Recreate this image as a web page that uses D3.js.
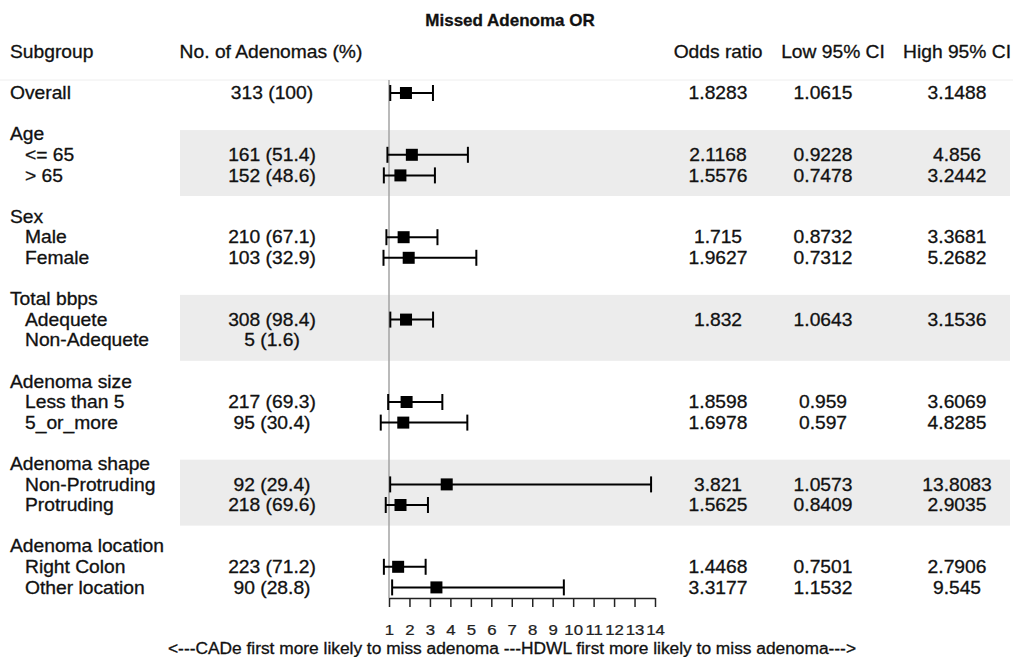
<!DOCTYPE html>
<html lang="en">
<head>
    <meta charset="UTF-8">
    <title>Missed Adenoma OR</title>
    <script src="https://d3js.org/d3.v7.min.js"></script>
    <style>
        body { margin: 0; background: #fff; }
        text { font-family: "Liberation Sans", Arial, sans-serif; fill: #111; stroke: #111; stroke-width: 0.3; }
        .band { fill: #ececec; }
        .ci { stroke: #000; stroke-width: 2; }
    </style>
</head>
<body>
<script>
    const width = 1013;
    const height = 657;

    // chart data
    const overallLabel = "Overall";
    const groups = ["Age", "Sex", "Total bbps", "Adenoma size", "Adenoma shape", "Adenoma location"];
    const subgroups = [
        ["<= 65", "> 65"],
        ["Male", "Female"],
        ["Adequete", "Non-Adequete"],
        ["Less than 5", "5_or_more"],
        ["Non-Protruding", "Protruding"],
        ["Right Colon", "Other location"]
    ];
    // overall first, then subgroups in order
    const counts  = [313, 161, 152, 210, 103, 308, 5, 217, 95, 92, 218, 223, 90];
    const percent = [100, 51.4, 48.6, 67.1, 32.9, 98.4, 1.6, 69.3, 30.4, 29.4, 69.6, 71.2, 28.8];
    const oddsRatio = [1.8283, 2.1168, 1.5576, 1.715, 1.9627, 1.832, null, 1.8598, 1.6978, 3.821, 1.5625, 1.4468, 3.3177];
    const lowCI     = [1.0615, 0.9228, 0.7478, 0.8732, 0.7312, 1.0643, null, 0.959, 0.597, 1.0573, 0.8409, 0.7501, 1.1532];
    const highCI    = [3.1488, 4.856, 3.2442, 3.3681, 5.2682, 3.1536, null, 3.6069, 4.8285, 13.8083, 2.9035, 2.7906, 9.545];
    const xTicks = d3.range(1, 15);

    const title = "Missed Adenoma OR";
    const axisLabel = "<---CADe first more likely to miss adenoma ---HDWL first more likely to miss adenoma--->";

    // build the row layout: overall, blank, then header + 2 rows + blank per group
    const rows = [];
    rows.push({row: 0, label: overallLabel, indent: false, k: 0});
    let k = 1;
    groups.forEach((g, gi) => {
        const base = 2 + gi * 4;
        rows.push({row: base, label: g, indent: false, k: null});
        subgroups[gi].forEach((s, si) => {
            rows.push({row: base + 1 + si, label: s, indent: true, k: k});
            k++;
        });
    });

    const svg = d3.select("body").append("svg")
            .attr("width", width).attr("height", height);

    const y = d3.scaleLinear().domain([0, 24]).range([93, 587.4]);
    const x = d3.scaleLinear().domain([1, 14]).range([389, 655]);
    const step = y(1) - y(0);
    const sx = 1.1; // text in the picture runs a bit wide

    // shaded bands on every other group
    svg.selectAll("rect.band")
            .data(groups.filter((g, i) => i % 2 == 0))
            .enter().append("rect")
            .attr("class", "band")
            .attr("x", 180)
            .attr("width", 830)
            .attr("y", (d, i) => y(2 + i * 8) - 0.2 * step)
            .attr("height", 3.2 * step);

    // faint rule under header
    svg.append("line")
            .attr("x1", 0).attr("x2", width)
            .attr("y1", 80).attr("y2", 80)
            .style("stroke", "#eeeeee");

    function txt(g, xx, yy, s, anchor, size, weight) {
        return g.append("text")
                .attr("transform", `translate(${xx},${yy}) scale(${sx},1)`)
                .attr("text-anchor", anchor)
                .attr("dominant-baseline", "central")
                .style("font-size", size + "px")
                .style("font-weight", weight || "normal")
                .text(s);
    }

    // title and column headers
    svg.append("text")
            .attr("x", 510).attr("y", 20)
            .attr("text-anchor", "middle")
            .attr("dominant-baseline", "central")
            .style("font-size", "17px")
            .style("font-weight", "bold")
            .text(title);

    const head = svg.append("g");
    txt(head, 10, 52, "Subgroup", "start", 17.5);
    txt(head, 271, 52, "No. of Adenomas (%)", "middle", 17.5);
    txt(head, 718, 52, "Odds ratio", "middle", 17.5);
    txt(head, 833, 52, "Low 95% CI", "middle", 17.5);
    txt(head, 957, 52, "High 95% CI", "middle", 17.5);

    // reference line at OR = 1
    svg.append("line")
            .attr("x1", x(1)).attr("x2", x(1))
            .attr("y1", 80).attr("y2", 598)
            .style("stroke", "#a3a3a3")
            .style("stroke-width", 1.5);

    const body = svg.append("g");
    rows.forEach(r => {
        const yy = y(r.row);
        txt(body, r.indent ? 25 : 10, yy, r.label, "start", 17.5);
        if (r.k === null) return;
        txt(body, 272, yy, `${counts[r.k]} (${percent[r.k]})`, "middle", 17.5);
        if (oddsRatio[r.k] === null) return;
        txt(body, 718, yy, oddsRatio[r.k], "middle", 17.5);
        txt(body, 823, yy, lowCI[r.k], "middle", 17.5);
        txt(body, 957, yy, highCI[r.k], "middle", 17.5);
    });

    // confidence intervals and point estimates
    const est = rows.filter(r => r.k !== null && oddsRatio[r.k] !== null);
    const marks = svg.append("g");
    marks.selectAll("line.ci")
            .data(est).enter()
            .append("line").attr("class", "ci")
            .attr("x1", d => x(lowCI[d.k])).attr("x2", d => x(highCI[d.k]))
            .attr("y1", d => y(d.row)).attr("y2", d => y(d.row));
    marks.selectAll("line.lo")
            .data(est).enter()
            .append("line").attr("class", "ci lo")
            .attr("x1", d => x(lowCI[d.k])).attr("x2", d => x(lowCI[d.k]))
            .attr("y1", d => y(d.row) - 8).attr("y2", d => y(d.row) + 8);
    marks.selectAll("line.hi")
            .data(est).enter()
            .append("line").attr("class", "ci hi")
            .attr("x1", d => x(highCI[d.k])).attr("x2", d => x(highCI[d.k]))
            .attr("y1", d => y(d.row) - 8).attr("y2", d => y(d.row) + 8);
    marks.selectAll("rect.or")
            .data(est).enter()
            .append("rect").attr("class", "or")
            .attr("x", d => x(oddsRatio[d.k]) - 6)
            .attr("y", d => y(d.row) - 6)
            .attr("width", 12).attr("height", 12)
            .style("fill", "#000");

    // x axis
    const axis = svg.append("g")
            .attr("transform", "translate(0,598)")
            .call(d3.axisBottom(x).tickValues(xTicks).tickSize(9).tickSizeOuter(0).tickPadding(17));
    axis.select(".domain").style("stroke", "#222").style("stroke-width", 1.5);
    axis.selectAll(".tick line").style("stroke", "#222").style("stroke-width", 1.5);
    axis.selectAll(".tick text")
            .attr("transform", "scale(1.12,1)")
            .style("font-family", "Liberation Sans, Arial, sans-serif")
            .style("font-size", "15px")
            .style("fill", "#222")
            .style("stroke", "#222")
            .style("stroke-width", 0.25);

    svg.append("text")
            .attr("x", 512).attr("y", 648)
            .attr("text-anchor", "middle")
            .attr("dominant-baseline", "central")
            .attr("textLength", 688)
            .attr("lengthAdjust", "spacingAndGlyphs")
            .style("font-size", "16px")
            .text(axisLabel);
</script>
</body>
</html>
